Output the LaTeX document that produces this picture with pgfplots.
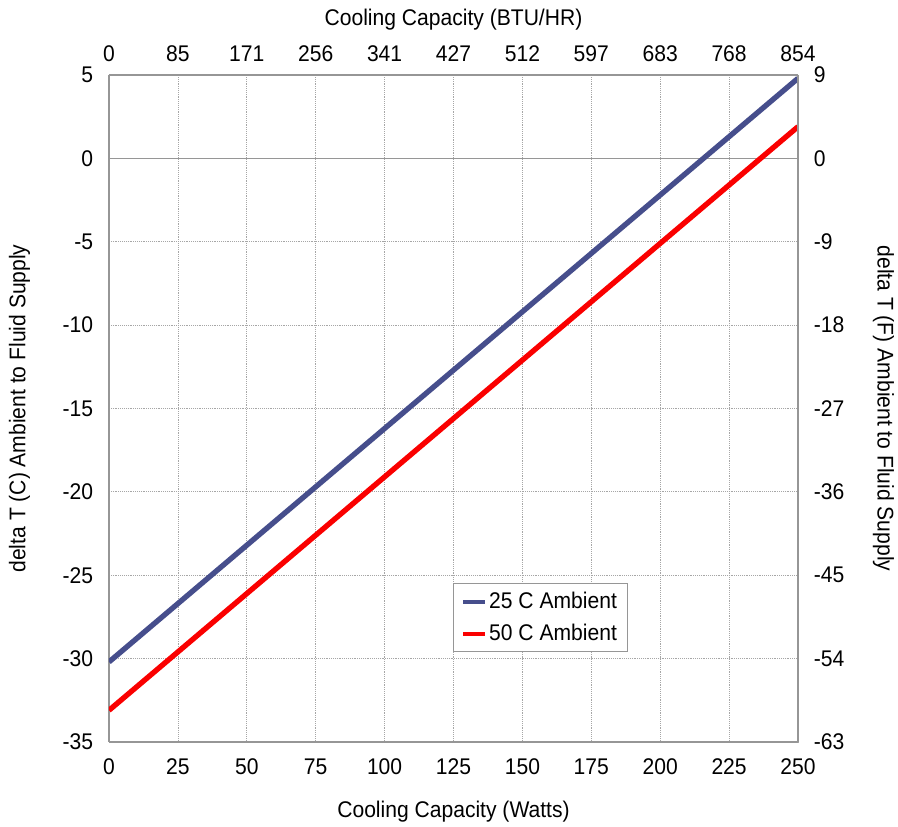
\documentclass[border=0pt]{standalone}
\usepackage{pgfplots}
\pgfplotsset{compat=1.18}
\usepackage{fontspec}
\setmainfont{Liberation Sans}[FakeStretch=0.93]
\definecolor{lineblue}{RGB}{70,78,140}
\definecolor{linered}{RGB}{250,0,0}
\definecolor{framegray}{RGB}{150,150,150}
\begin{document}
\fontsize{17}{20}\selectfont
\begin{tikzpicture}
\pgfplotsset{
  every axis/.append style={
    scale only axis, width=516.75pt, height=500.25pt,
    xmin=0, xmax=250,
    axis line style={framegray, line width=0.8pt},
    major tick length=0pt,
    tick label style={font=\fontsize{17}{20}\selectfont},
    label style={font=\fontsize{17}{20}\selectfont},
    /pgf/number format/assume math mode=true,
  }
}
\begin{axis}[
  axis x line*=bottom, axis y line*=left,
  ymin=-35, ymax=5,
  xtick={0,25,...,250}, ytick={-35,-30,...,5},
  grid=major,
  major grid style={densely dotted, gray!70, line width=0.6pt},
  xlabel={Cooling Capacity (Watts)},
  ylabel={delta T (C) Ambient to Fluid Supply},
  xlabel style={yshift=-8pt},
  ylabel style={yshift=13pt},
  xticklabel style={yshift=-7pt},
  yticklabel style={xshift=-6pt},
  legend style={at={(0.499,0.135)}, anchor=south west, draw=framegray, line width=0.6pt,
    inner xsep=6pt, inner ysep=4pt, row sep=5pt, font=\fontsize{17}{20}\selectfont},
  legend cell align=left,
  legend image code/.code={\draw[#1, line width=3pt] (0pt,0pt) -- (16pt,0pt);},
]
\draw[framegray, line width=0.8pt] (axis cs:0,0) -- (axis cs:250,0);
\addplot[lineblue, line width=4pt] coordinates {(0,-30.2) (250,4.8)};
\addlegendentry{25 C Ambient}
\addplot[linered, line width=4pt] coordinates {(0,-33.1) (250,1.9)};
\addlegendentry{50 C Ambient}
\end{axis}
\begin{axis}[
  axis x line*=top, axis y line*=right,
  ymin=-63, ymax=9,
  xtick={0,25,...,250},
  xticklabels={0,85,171,256,341,427,512,597,683,768,854},
  ytick={-63,-54,...,9},
  xlabel={Cooling Capacity (BTU/HR)},
  ylabel={delta T (F) Ambient to Fluid Supply},
  ylabel style={rotate=180, yshift=10pt},
  xlabel style={yshift=0pt},
  xticklabel style={yshift=4pt},
  yticklabel style={xshift=6pt},
]
\addplot[draw=none] coordinates {(0,0)};
\end{axis}
\pgfresetboundingbox
\path ([shift={(-81.75pt,-63.75pt)}]current axis.south west) rectangle ([shift={(75pt,56.25pt)}]current axis.north east);
\end{tikzpicture}
\end{document}
